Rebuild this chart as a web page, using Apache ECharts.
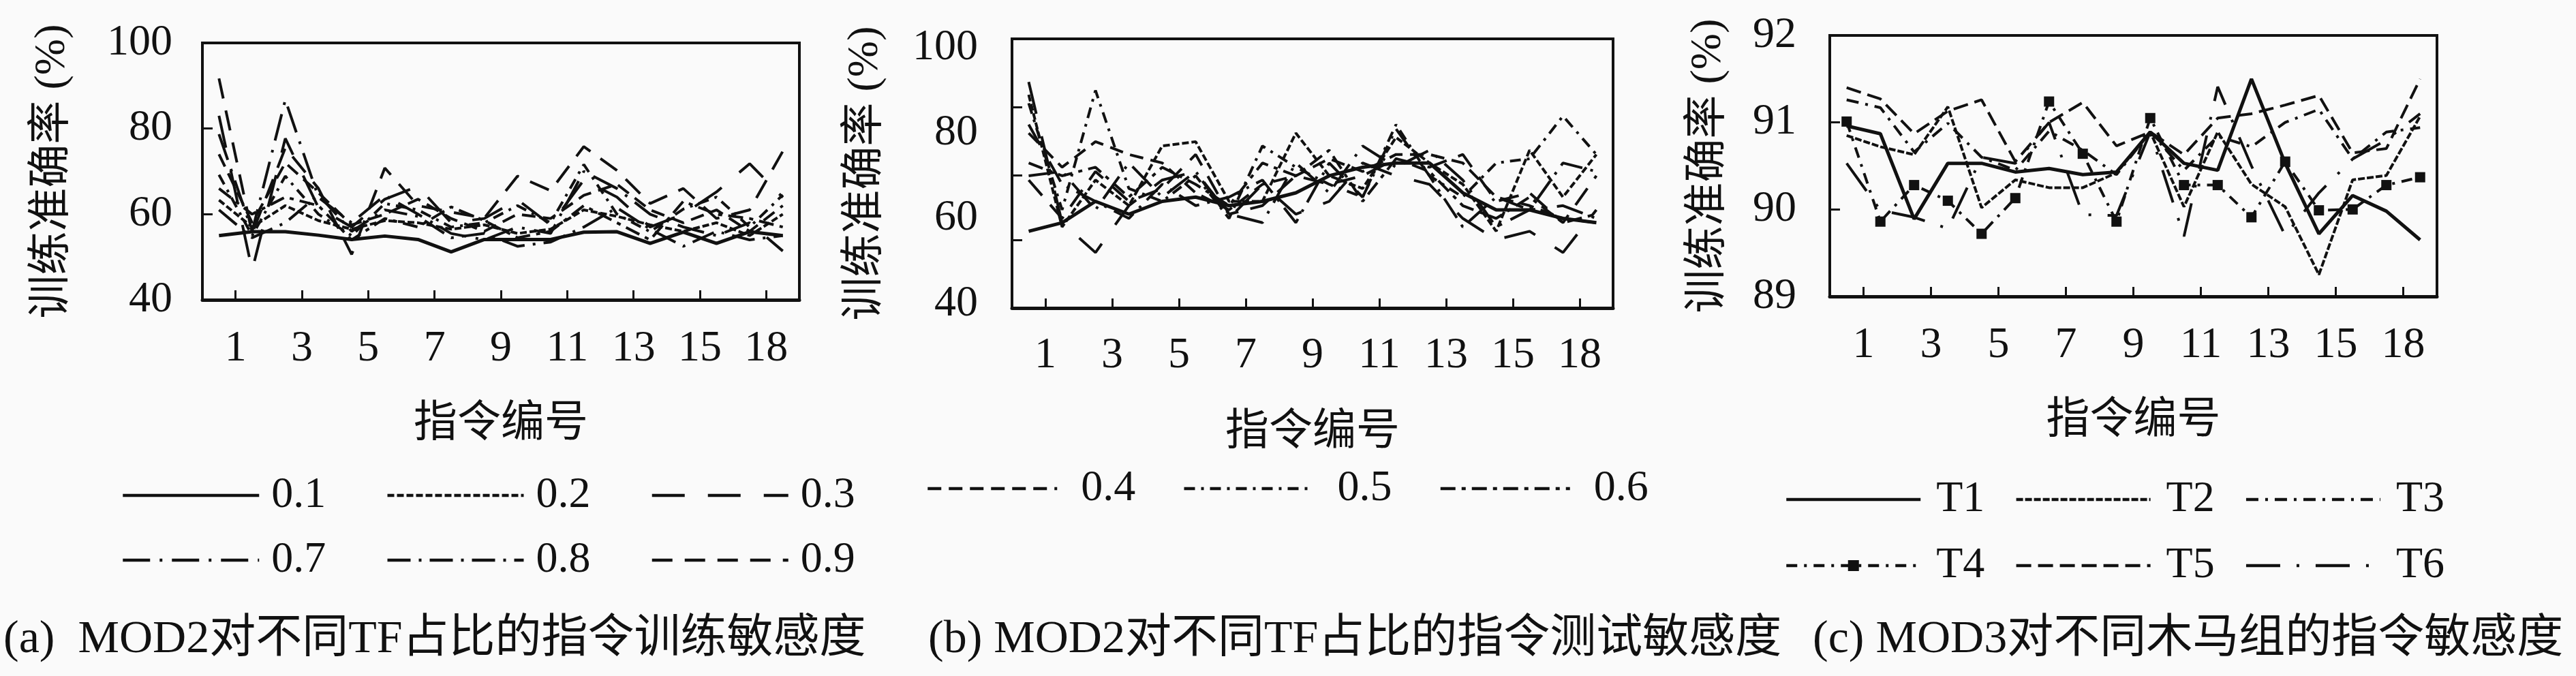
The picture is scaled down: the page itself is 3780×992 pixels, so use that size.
<!DOCTYPE html>
<html>
<head>
<meta charset="utf-8">
<script src="https://cdn.jsdelivr.net/npm/echarts@6.0.0/dist/echarts.min.js"></script>
<style>
  html, body { margin: 0; padding: 0; background: #fafafa; }
  #chart { width: 3780px; height: 992px; }
</style>
</head>
<body>
<div id="chart"></div>
<script>
// instruction numbers on the x axis
const instrIds = [1, 2, 3, 4, 5, 6, 7, 8, 9, 10, 11, 12, 13, 14, 15, 16, 17, 18];
const xTickLabels = ['1', '3', '5', '7', '9', '11', '13', '15', '18'];

// (a) training accuracy (%) for each TF ratio
const trainNames = ['0.1', '0.2', '0.3', '0.4', '0.5', '0.6', '0.7', '0.8', '0.9'];
const train01 = [55.0, 55.9, 55.9, 55.1, 54.1, 54.9, 54.1, 51.2, 54.1, 54.1, 54.1, 55.8, 55.9, 53.2, 55.8, 53.2, 55.9, 55.0];
const train02 = [63.3, 57.0, 62.0, 58.5, 56.5, 58.5, 58.0, 56.5, 57.5, 55.5, 56.5, 61.0, 59.5, 57.5, 56.0, 58.0, 55.0, 60.0];
const train03 = [83.0, 46.9, 77.7, 61.5, 57.0, 63.5, 66.5, 58.0, 59.0, 63.4, 57.5, 68.0, 64.0, 57.0, 60.0, 65.2, 71.8, 63.9];
const train04 = [74.0, 58.0, 72.0, 65.0, 57.5, 60.0, 63.5, 59.0, 56.0, 60.0, 59.0, 64.4, 67.0, 61.0, 58.0, 61.0, 56.0, 62.0];
const train05 = [69.2, 55.0, 68.9, 60.0, 55.0, 62.5, 61.0, 57.0, 58.0, 62.0, 58.0, 71.6, 60.0, 55.9, 61.2, 64.0, 57.0, 64.5];
const train06 = [66.0, 60.0, 64.0, 62.0, 54.0, 59.0, 57.0, 61.7, 58.5, 54.5, 56.0, 62.0, 58.0, 54.0, 63.0, 60.0, 59.0, 57.0];
const train07 = [78.7, 56.0, 86.7, 63.9, 58.0, 64.4, 60.0, 55.5, 54.0, 57.0, 55.5, 70.0, 66.0, 60.0, 57.0, 55.0, 58.0, 51.4];
const train08 = [61.0, 54.5, 58.0, 64.5, 56.0, 61.0, 59.5, 54.5, 55.5, 52.5, 53.5, 57.0, 61.5, 56.5, 52.5, 56.0, 54.0, 55.0];
const train09 = [91.7, 55.5, 75.5, 66.0, 50.6, 70.8, 62.0, 60.5, 59.1, 68.9, 65.5, 75.8, 70.2, 62.5, 66.0, 59.0, 61.0, 74.7];
const trainValues = [train01, train02, train03, train04, train05, train06, train07, train08, train09];

// (b) test accuracy (%) for each TF ratio
const test01 = [57, 59, 64, 61, 64, 65, 63, 64, 66, 70, 72, 73, 73, 66, 62, 62, 60, 59];
const test02 = [89, 58, 69, 63, 77, 78, 64, 64, 80, 70, 67, 79, 73, 68, 57, 76, 65, 75];
const test03 = [92, 59, 52, 63, 69, 71, 60, 68, 61, 64, 73, 70, 68, 60, 55, 57, 52, 62];
const test04 = [80, 72, 78, 75, 73, 66, 62, 68, 70, 74, 71, 75, 75, 73, 65, 63, 60, 59];
const test05 = [87, 62, 90, 67, 64, 70, 60, 77, 72, 68, 65, 82, 70, 65, 73, 74, 84, 75];
const test06 = [73, 70, 72, 65, 72, 68, 63, 73, 70, 76, 64, 74, 71, 63, 60, 65, 59, 61];
const test07 = [70, 71, 62, 73, 65, 71, 61, 59, 73, 66, 77, 72, 76, 69, 58, 62, 63, 60];
const test08 = [82, 68, 64, 60, 68, 63, 65, 69, 59, 73, 65, 81, 70, 58, 65, 62, 73, 71];
const test09 = [69, 60, 71, 64, 67, 75, 61, 63, 70, 68, 70, 74, 72, 75, 64, 66, 59, 70];
const testValues = [test01, test02, test03, test04, test05, test06, test07, test08, test09];

// (c) accuracy (%) for each trojan group
const trojanNames = ['T1', 'T2', 'T3', 'T4', 'T5', 'T6'];
const trojanT1 = [90.96, 90.87, 89.89, 90.53, 90.53, 90.43, 90.47, 90.40, 90.43, 90.89, 90.53, 90.45, 91.50, 90.53, 89.72, 90.16, 89.98, 89.65];
const trojanT2 = [90.85, 90.72, 90.63, 91.18, 90.02, 90.34, 90.25, 90.25, 90.42, 90.89, 90.03, 90.89, 90.29, 90.03, 89.25, 90.34, 90.39, 91.07];
const trojanT3 = [91.26, 91.17, 90.66, 90.99, 90.60, 90.45, 90.90, 90.68, 90.40, 90.89, 90.45, 90.84, 90.72, 91.00, 91.15, 90.58, 90.89, 90.94];
const trojanT4 = [91.01, 89.86, 90.28, 90.10, 89.72, 90.13, 91.24, 90.64, 89.86, 91.05, 90.28, 90.28, 89.91, 90.55, 89.99, 90.00, 90.28, 90.37];
const trojanT5 = [91.40, 91.27, 90.87, 91.13, 91.26, 90.55, 91.00, 91.23, 90.73, 90.89, 90.63, 91.05, 91.10, 91.20, 91.31, 90.65, 90.70, 91.50];
const trojanT6 = [90.53, 89.99, 89.91, 89.78, 90.60, 90.53, 91.00, 89.94, 89.93, 90.89, 89.69, 91.41, 90.50, 89.70, 90.19, 90.58, 90.80, 91.10];
const trojanValues = [trojanT1, trojanT2, trojanT3, trojanT4, trojanT5, trojanT6];

const FONT = '"Liberation Serif", "DejaVu Serif", "Noto Sans CJK SC", serif';
const INK = '#111';

// line looks, one per TF ratio / trojan group
const ratioStyles = {
  '0.1': { type: 'solid', width: 5 },
  '0.2': { type: [10, 4], width: 4 },
  '0.3': { type: [48, 34], width: 4 },
  '0.4': { type: [20, 11], width: 4 },
  '0.5': { type: [16, 9, 4, 9], width: 4 },
  '0.6': { type: [22, 9, 6, 9], width: 4 },
  '0.7': { type: [40, 14, 4, 14], width: 4 },
  '0.8': { type: [34, 12, 4, 12], width: 4 },
  '0.9': { type: [30, 18], width: 4 }
};
const trojanStyles = {
  T1: { type: 'solid', width: 5 },
  T2: { type: [10, 3], width: 4 },
  T3: { type: [18, 10, 4, 10], width: 4 },
  T4: { type: [16, 10, 4, 10], width: 4 },
  T5: { type: [22, 10], width: 4 },
  T6: { type: [50, 24, 4, 24], width: 4 }
};

function toPoints(values) {
  return values.map((v, i) => [instrIds[i], v]);
}

function xTickLabel(value) {
  const idx = Math.round((value - 1.5) / 2);
  return xTickLabels[idx] || '';
}

const xTickPos = xTickLabels.map((_, i) => 1.5 + i * 2);

function makeXAxis(gridIndex, labelMargin) {
  return {
    type: 'value',
    gridIndex,
    min: 0.5,
    max: 18.5,
    name: '指令编号',
    nameLocation: 'middle',
    nameGap: 151,
    nameTextStyle: { fontFamily: FONT, fontSize: 64, color: INK },
    axisLine: { show: true, lineStyle: { color: INK, width: 5 } },
    axisTick: { show: true, inside: true, length: 14, customValues: xTickPos, lineStyle: { color: INK, width: 3 } },
    axisLabel: { customValues: xTickPos, formatter: xTickLabel, margin: labelMargin, fontFamily: FONT, fontSize: 64, color: INK },
    splitLine: { show: false }
  };
}

function yAxisBase(gridIndex, nameGap, labelMargin) {
  return {
    type: 'value',
    gridIndex,
    name: '训练准确率 (%)',
    nameLocation: 'middle',
    nameGap,
    nameRotate: 90,
    nameTextStyle: { fontFamily: FONT, fontSize: 64, color: INK },
    axisLine: { show: true, lineStyle: { color: INK, width: 3.5 } },
    axisTick: { show: true, inside: true, length: 15, lineStyle: { color: INK, width: 3 } },
    axisLabel: { margin: labelMargin, fontFamily: FONT, fontSize: 64, color: INK },
    splitLine: { show: false }
  };
}

const yA = yAxisBase(0, 188, 44);
yA.min = 40; yA.max = 100; yA.interval = 20;
yA.axisLabel.padding = [0, 0, 24, 0];

const yB = yAxisBase(1, 183, 50);
yB.min = 39; yB.max = 102.1;
yB.axisLabel.customValues = [40, 60, 80, 100];
yB.axisTick.customValues = [55, 70.1, 86.1];

const yC = yAxisBase(2, 146, 49);
yC.min = 89; yC.max = 92; yC.interval = 1;
yC.axisLabel.padding = [0, 0, 20, 0];

function lineSeries(name, values, axisIndex, style, extra) {
  return Object.assign({
    name,
    type: 'line',
    xAxisIndex: axisIndex,
    yAxisIndex: axisIndex,
    data: toPoints(values),
    symbol: 'none',
    lineStyle: { color: INK, width: style.width, type: style.type },
    itemStyle: { color: INK },
    z: 3
  }, extra || {});
}

const series = [];
trainNames.forEach((name, i) => series.push(lineSeries(name, trainValues[i], 0, ratioStyles[name])));
trainNames.forEach((name, i) => series.push(lineSeries(name, testValues[i], 1, ratioStyles[name])));
trojanNames.forEach((name, i) => {
  const extra = name === 'T4' ? { symbol: 'rect', symbolSize: 15, showAllSymbol: true } : null;
  series.push(lineSeries(name, trojanValues[i], 2, trojanStyles[name], extra));
});

// legend entries: only T4 keeps its square marker on the sample line
function legendItem(name) {
  return name === 'T4' ? { name } : { name, itemStyle: { opacity: 0 } };
}

function legendRow(names, left, top, itemWidth, itemGap, textPad) {
  return {
    data: names.map(legendItem),
    left,
    top,
    orient: 'horizontal',
    padding: 0,
    itemWidth,
    itemHeight: 20,
    itemGap,
    selectedMode: false,
    lineStyle: { width: 4.5 },
    textStyle: { fontFamily: FONT, fontSize: 64, color: INK, padding: textPad }
  };
}

const gridBox = { show: true, borderColor: INK, borderWidth: 4, backgroundColor: 'transparent', containLabel: false, outerBoundsMode: 'none' };

const captionStyle = { fontFamily: FONT, fontSize: 68, fontWeight: 'normal', color: INK };

const chart = echarts.init(document.getElementById('chart'), null, { renderer: 'canvas' });
chart.setOption({
  backgroundColor: '#fafafa',
  animation: false,
  title: [
    { text: '(a)  MOD2对不同TF占比的指令训练敏感度', left: 5, top: 905, padding: 0, textStyle: captionStyle },
    { text: '(b) MOD2对不同TF占比的指令测试敏感度', left: 1362, top: 905, padding: 0, textStyle: captionStyle },
    { text: '(c) MOD3对不同木马组的指令敏感度', left: 2660, top: 905, padding: 0, textStyle: captionStyle }
  ],
  legend: [
    legendRow(['0.1', '0.2', '0.3'], 178, 695, 200, 88, [0, 0, 26, 13]),
    legendRow(['0.7', '0.8', '0.9'], 178, 790, 200, 88, [0, 0, 26, 13]),
    legendRow(['0.4', '0.5', '0.6'], 1359, 685, 190, 69, [0, 0, 0, 30]),
    legendRow(['T1', 'T2', 'T3'], 2619, 701, 197, 44, [0, 0, 0, 18]),
    legendRow(['T4', 'T5', 'T6'], 2619, 798, 197, 44, [0, 0, 0, 18])
  ],
  grid: [
    Object.assign({ left: 297, top: 63, width: 876, height: 377 }, gridBox),
    Object.assign({ left: 1485, top: 57, width: 882, height: 395 }, gridBox),
    Object.assign({ left: 2685, top: 52, width: 891, height: 383 }, gridBox)
  ],
  xAxis: [makeXAxis(0, 40), makeXAxis(1, 38), makeXAxis(2, 40)],
  yAxis: [yA, yB, yC],
  series
});
</script>
</body>
</html>
